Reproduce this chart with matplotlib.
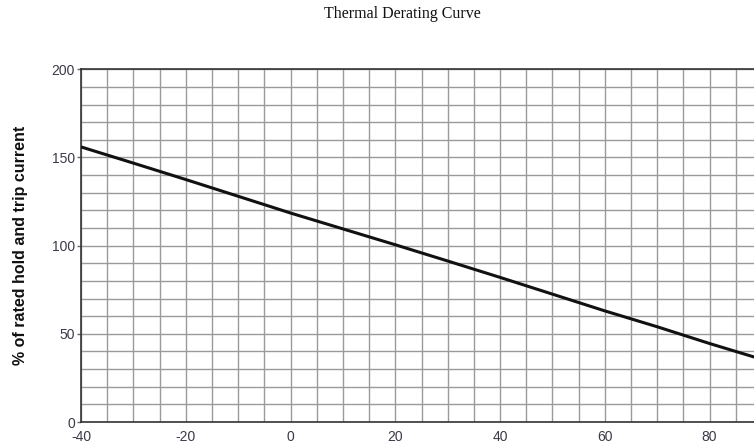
import matplotlib
matplotlib.use("Agg")
import matplotlib.pyplot as plt
from matplotlib.ticker import MultipleLocator

# temperature (C) vs % of rated hold and trip current
temps = [-40, -30, -20, -10, 0, 10, 20, 30, 40, 50, 60, 70, 80, 90]
percent = [156, 146.8, 137.5, 128, 118.5, 109.5, 100.5, 91.3, 82, 72.5, 63, 54, 44.5, 35.5]

xTicks = [-40, -20, 0, 20, 40, 60, 80]
yTicks = [0, 50, 100, 150, 200]

fig = plt.figure(figsize=(7.54, 4.46), dpi=100)
# axes run past the right edge of the figure, the way the original is cropped
ax = fig.add_axes([81 / 754, 24 / 446, 681 / 754, 352.7 / 446])

ax.plot(temps, percent, color='#111111', linewidth=2.2, solid_capstyle='butt', zorder=3)

ax.set_xlim(-40, 90)
ax.set_ylim(0, 200)
ax.set_xticks(xTicks)
ax.set_yticks(yTicks)
ax.xaxis.set_minor_locator(MultipleLocator(5))
ax.yaxis.set_minor_locator(MultipleLocator(10))
ax.grid(which='both', color='#9a9a9a', linewidth=1.0, zorder=1)
ax.set_axisbelow(True)

tickFont = {'family': 'Liberation Sans', 'size': 10}
ax.set_xticklabels([str(t) for t in xTicks], fontdict=tickFont, color='#3a3a48')
ax.set_yticklabels([str(t) for t in yTicks], fontdict=tickFont, color='#3a3a48')
ax.tick_params(axis='x', which='both', length=0, pad=6)
ax.tick_params(axis='y', which='major', length=3, width=1, color='#666666', pad=1.5)
ax.tick_params(axis='y', which='minor', length=0)

for side in ['left', 'bottom', 'top']:
    ax.spines[side].set_color('#333333')
    ax.spines[side].set_linewidth(1.2)
ax.spines['right'].set_visible(False)

ax.set_ylabel('% of rated hold and trip current', family='Liberation Sans',
              fontsize=11.5, fontweight='bold', color='#111111')
ax.yaxis.set_label_coords(-0.078, 0.5)

fig.text(402 / 754, 1 - 14 / 446, 'Thermal Derating Curve', family='Liberation Serif',
         fontsize=11.5, color='#111111', ha='center', va='center')

fig.savefig('out.png', dpi=100)
